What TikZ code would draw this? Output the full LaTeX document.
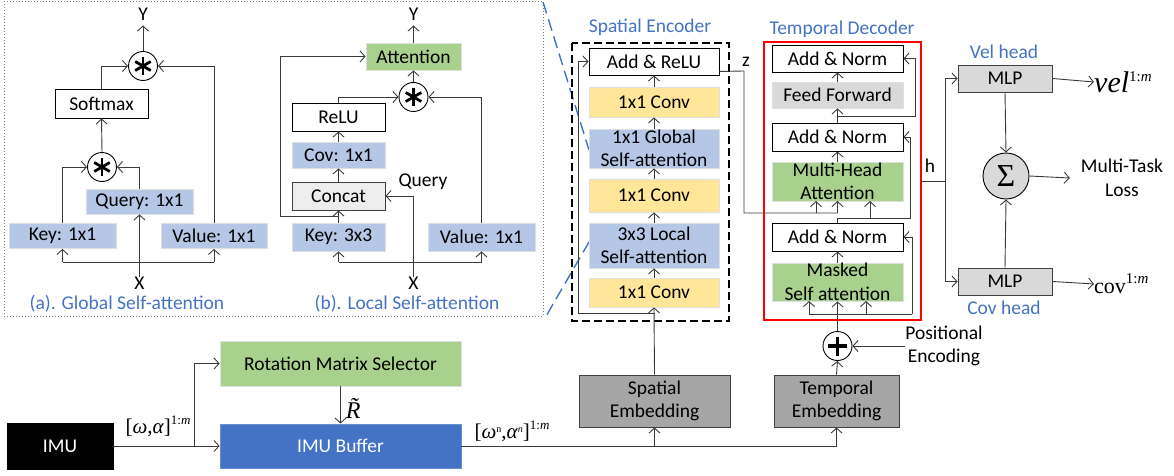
\documentclass[tikz,border=0pt]{standalone}
\usepackage{fontspec}
\setmainfont{Carlito}
\newfontfamily\tms{Liberation Serif}
\usetikzlibrary{arrows.meta,calc}
\definecolor{lblue}{HTML}{B4C7E7}
\definecolor{lyel}{HTML}{FFE699}
\definecolor{lgreen}{HTML}{A9D18E}
\definecolor{lgray}{HTML}{D9D9D9}
\definecolor{vlgray}{HTML}{EDEDED}
\definecolor{dgray}{HTML}{A6A6A6}
\definecolor{mblue}{HTML}{4472C4}
\definecolor{lnk}{HTML}{3A3A3A}
\newcommand\mystar[1]{\foreach \ang in {90,30,150}{\draw[line width=2.8pt] ($(#1)+(\ang:9)$) -- ($(#1)+(\ang+180:9)$);}}
\begin{document}
\begin{tikzpicture}[x=1pt,y=-1pt,
  every node/.style={font=\fontsize{19.5}{23.5}\selectfont, inner sep=0pt},
  wbox/.style={draw=black, line width=0.9pt, fill=white, align=center},
  cbox/.style={draw=black!12, line width=0.8pt, fill=#1, align=center},
  gbox/.style={draw=black!75, line width=0.9pt, fill=#1, align=center},
  circ/.style={circle, draw=black, line width=0.9pt, minimum size=29pt, fill=white},
  arr/.style={draw=lnk, line width=0.9pt, -{Straight Barb[length=5pt,width=11pt]}},
  ln/.style={draw=lnk, line width=0.9pt},
  lbl/.style={text=mblue}]
\useasboundingbox (0,0) rectangle (1174,476);

% panel frame and zoom lines
\draw[gray, line width=0.9pt, dash pattern=on 1pt off 2pt] (4,1) rectangle (543,316);
\coordinate (zt1) at (543,2); \coordinate (zt2) at (589,150);
\coordinate (zb1) at (589,242); \coordinate (zb2) at (545,318);
\draw[mblue, line width=1.4pt, dash pattern=on 12pt off 6pt] (zt1) -- (zt2);
\draw[mblue, line width=1.4pt, dash pattern=on 12pt off 6pt] (zb1) -- (zb2);

% ---------- panel (a)
\node (Ya) at (143,14) {Y};
\node[circ] (as2) at (143,66) {};
\node[wbox, minimum width=93pt, minimum height=29pt] (asoft) at (101.5,103.5) {Softmax};
\node[circ] (as1) at (102,167) {};
\node[cbox=lblue, minimum width=107pt, minimum height=25pt] (aq) at (139.5,201.5) {Query: 1x1};
\node[cbox=lblue, minimum width=107pt, minimum height=25pt] (ak) at (62.5,236) {Key: 1x1};
\node[cbox=lblue, minimum width=106pt, minimum height=25pt] (av) at (214,236) {Value: 1x1};
\node (Xa) at (139.5,283) {X};
\node[lbl] (alab) at (127,303.5) {(a). Global Self-attention};
\mystar{as1}\mystar{as2}
\coordinate (ajl) at (62.5,262); \coordinate (ajr) at (214,262);
\draw[ln] (ajl) -- (ajr);
\draw[arr] (ajl) -- (ak.south);
\draw[arr] (ajr) -- (av.south);
\draw[arr] (Xa.north) -- (aq.south);
\draw[arr] (ak.north) |- (as1.west);
\draw[arr] (aq.north) |- (as1.east);
\draw[arr] (as1.north) -- (asoft.south);
\draw[arr] (asoft.north) |- (as2.west);
\draw[arr] (av.north) |- (as2.east);
\draw[arr] (as2.north) -- ([yshift=-5pt]Ya.south);

% ---------- panel (b)
\node (Yb) at (413.5,14) {Y};
\node[cbox=lgreen, minimum width=95pt, minimum height=27pt] (battn) at (413.5,56.5) {Attention};
\node[circ] (bs) at (413.5,97) {};
\node[wbox, minimum width=93pt, minimum height=28pt] (brelu) at (338.5,117) {ReLU};
\node[cbox=lblue, minimum width=93pt, minimum height=26pt] (bcov) at (338.5,155) {Cov: 1x1};
\node[gbox=vlgray, minimum width=93pt, minimum height=28pt] (bcat) at (338.5,196) {Concat};
\node[cbox=lblue, minimum width=93pt, minimum height=28pt] (bk) at (338.5,237) {Key: 3x3};
\node[cbox=lblue, minimum width=107pt, minimum height=28pt] (bv) at (481.5,237) {Value: 1x1};
\node (bq) at (423,182) {Query};
\node (Xb) at (413.5,283) {X};
\node[lbl] (blab) at (407,303.5) {(b). Local Self-attention};
\mystar{bs}
\coordinate (bjl) at (338.5,262); \coordinate (bjr) at (481.5,262);
\draw[ln] (bjl) -- (bjr);
\draw[arr] (bjl) -- (bk.south);
\draw[arr] (bjr) -- (bv.south);
\draw[arr] (Xb.north) |- (bcat.east);
\draw[arr] (bk.north) -- (bcat.south);
\coordinate (bbr) at (338.5,216); \coordinate (bbl) at (280,216);
\draw[arr] (bbr) -- (bbl) |- (battn.west);
\draw[arr] (bcat.north) -- (bcov.south);
\draw[arr] (bcov.north) -- (brelu.south);
\draw[arr] (brelu.north) |- (bs.west);
\draw[arr] (bv.north) |- (bs.east);
\draw[arr] (bs.north) -- (battn.south);
\draw[arr] (battn.north) -- ([yshift=-5pt]Yb.south);

% ---------- spatial encoder
\node[lbl] (setitle) at (650,27) {Spatial Encoder};
\draw[black, line width=1.2pt, dash pattern=on 8pt off 4pt] (572,43) rectangle (729,321);
\node[wbox, minimum width=130pt, minimum height=27pt] (sadd) at (654,61.5) {Add \& ReLU};
\node[cbox=lyel, minimum width=130pt, minimum height=30pt] (sc3) at (654,102) {1x1 Conv};
\node[cbox=lblue, minimum width=130pt, minimum height=39pt, inner ysep=-4pt] (sglob) at (654,148.5) {1x1 Global\\Self-attention};
\node[cbox=lyel, minimum width=130pt, minimum height=33pt] (sc2) at (654,195.5) {1x1 Conv};
\node[cbox=lblue, minimum width=130pt, minimum height=45pt, inner ysep=-4pt] (sloc) at (654,245.5) {3x3 Local\\Self-attention};
\node[cbox=lyel, minimum width=130pt, minimum height=29pt] (sc1) at (654,292.5) {1x1 Conv};
\node[gbox=dgray, minimum width=151pt, minimum height=52pt] (semb) at (654.5,401) {Spatial\\Embedding};
\draw[arr] (semb.north) -- (sc1.south);
\draw[arr] (sc1.north) -- (sloc.south);
\draw[arr] (sloc.north) -- (sc2.south);
\draw[arr] (sc2.north) -- (sglob.south);
\draw[arr] (sglob.north) -- (sc3.south);
\draw[arr] (sc3.north) -- (sadd.south);
\coordinate (sres) at (654.5,313); \coordinate (sresl) at (578,313);
\draw[arr] (sres) -- (sresl) |- (sadd.west);
\node (zlab) at (746,62) {z};

% ---------- temporal decoder
\node[lbl] (tdtitle) at (842,29) {Temporal Decoder};
\draw[red, line width=1.3pt] (764,42) rectangle (921,320);
\node[wbox, minimum width=131pt, minimum height=27pt] (tan3) at (837.5,58.5) {Add \& Norm};
\node[cbox=lgray, minimum width=131pt, minimum height=26pt] (tff) at (837.5,95) {Feed Forward};
\node[wbox, minimum width=131pt, minimum height=28pt] (tan2) at (837.5,137) {Add \& Norm};
\node[cbox=lgreen, minimum width=131pt, minimum height=39pt, inner ysep=-4pt] (tmha) at (837.5,181.5) {Multi-Head\\Attention};
\node[wbox, minimum width=131pt, minimum height=28pt] (tan1) at (837.5,237) {Add \& Norm};
\node[cbox=lgreen, minimum width=131pt, minimum height=38pt, inner ysep=-4pt] (tmsa) at (837.5,282) {Masked\\Self attention};
\node[circ] (tplus) at (837.5,346) {};
\draw[line width=3.6pt] ($(tplus)+(-9.5,0)$) -- ($(tplus)+(9.5,0)$);
\draw[line width=3.6pt] ($(tplus)+(0,-9.5)$) -- ($(tplus)+(0,9.5)$);
\node[align=center] (pe) at (944,346) {Positional\\Encoding};
\node[gbox=dgray, minimum width=125pt, minimum height=52pt] (temb) at (836.5,401) {Temporal\\Embedding};
\draw[arr] (temb.north) -- (tplus.south);
\draw[arr] (pe.west) -- (tplus.east);
\draw[arr] (tplus.north) -- (tmsa.south);
\coordinate (tb1) at (809,314); \coordinate (tb3) at (866,314); \coordinate (tb4) at (912,314);
\draw[ln] (tb1) -- (tb4);
\draw[arr] (tb4) |- (tan1.east);
\draw[arr] (tb1) -- (809,301);
\draw[arr] (tb3) -- (866,301);
\draw[arr] (tmsa.north) -- (tan1.south);
\coordinate (tr2) at (837.5,218); \coordinate (tr2r) at (910,218);
\draw[ln] (tan1.north) -- (tr2);
\draw[arr] (tr2) -- (tr2r) |- (tan2.east);
\coordinate (tq) at (870,218);
\draw[arr] (tq) -- (870,201);
% z connection
\coordinate (zo) at (744,71); \coordinate (zd) at (744,213); \coordinate (zk) at (816,213); \coordinate (zv) at (837.5,213);
\draw[ln] ([yshift=4pt]sadd.south east) -- (zo) -- (zd) -- (zv);
\draw[arr] (zk) -- (816,201);
\draw[arr] (zv) -- (837.5,201);
\draw[arr] (tmha.north) -- (tan2.south);
\coordinate (tr3) at (837.5,116); \coordinate (tr3r) at (915,116);
\draw[arr] (tan2.north) -- (tff.south);
\draw[arr] (tr3) -- (tr3r) |- (tan3.east);
\draw[arr] (tff.north) -- (tan3.south);

% ---------- heads
\coordinate (hout) at (921,181); \coordinate (hj) at (945,181);
\coordinate (htop) at (945,78.5); \coordinate (hbot) at (945,281.5);
\node (hlab) at (930,166) {h};
\node[gbox=lgray, minimum width=94pt, minimum height=27pt] (mlp1) at (1005,78.5) {MLP};
\node[gbox=lgray, minimum width=94pt, minimum height=27pt] (mlp2) at (1005,281.5) {MLP};
\node[lbl] (velh) at (1004,52) {Vel head};
\node[lbl] (covh) at (1004,308) {Cov head};
\draw[ln] (hout) -- (hj);
\draw[ln] (htop) -- (hbot);
\draw[arr] (htop) -- (mlp1.west);
\draw[arr] (hbot) -- (mlp2.west);
\node[circle, draw=black, line width=0.9pt, fill=lgray, minimum size=46pt] (sig) at (1006,176) {\tms\fontsize{32}{32}\selectfont Σ};
\draw[arr] (mlp1.south) -- (sig.north);
\draw[arr] (mlp2.north) -- (sig.south);
\node[align=center] (mtl) at (1122,178) {Multi-Task\\Loss};
\draw[arr] (sig.east) -- ([xshift=-11pt]mtl.west);
\node[anchor=west] (vel) at (1094,82) {\tms\fontsize{30}{30}\selectfont\textit{vel}\raisebox{11pt}{\fontsize{15}{15}\selectfont 1:\textit{m}}};
\node[anchor=west] (cov) at (1094,284) {\tms\fontsize{22}{22}\selectfont cov\raisebox{10pt}{\fontsize{15}{15}\selectfont 1:\textit{m}}};
\draw[arr] (mlp1.east) -- (vel.west);
\draw[arr] (mlp2.east) -- (cov.west);

% ---------- bottom
\node[draw=black, fill=black, text=white, minimum width=106pt, minimum height=46pt] (imu) at (60,446) {IMU};
\node[cbox=lgreen, minimum width=241pt, minimum height=45pt] (rms) at (340.5,363.5) {Rotation Matrix Selector};
\node[draw=mblue!80!white, fill=mblue, text=white, line width=0.8pt, minimum width=241pt, minimum height=44pt] (ib) at (340.5,446) {IMU Buffer};
\coordinate (bj) at (194,446);
\draw[arr] (imu.east) -- (ib.west);
\draw[arr] (bj) |- (rms.west);
\draw[arr] (rms.south) -- (ib.north);
\node (rt) at (358,408) {\tms\fontsize{24}{24}\selectfont\textit{\~{R}}};
\node (wa) at (158,426) {\tms\fontsize{21}{21}\selectfont[\textit{ω},\textit{α}]\raisebox{9pt}{\fontsize{13}{13}\selectfont 1:\textit{m}}};
\node (wan) at (512,431) {\tms\fontsize{21}{21}\selectfont[\textit{ω}\raisebox{6pt}{\fontsize{10}{10}\selectfont n},\textit{α}\raisebox{6pt}{\fontsize{10}{10}\selectfont\textit{n}}]\raisebox{9pt}{\fontsize{13}{13}\selectfont 1:\textit{m}}};
\coordinate (bse) at (654.5,446); \coordinate (bte) at (836.5,446);
\draw[ln] (ib.east) -- (bte);
\draw[arr] (bse) -- (semb.south);
\draw[arr] (bte) -- (temb.south);
\end{tikzpicture}
\end{document}
